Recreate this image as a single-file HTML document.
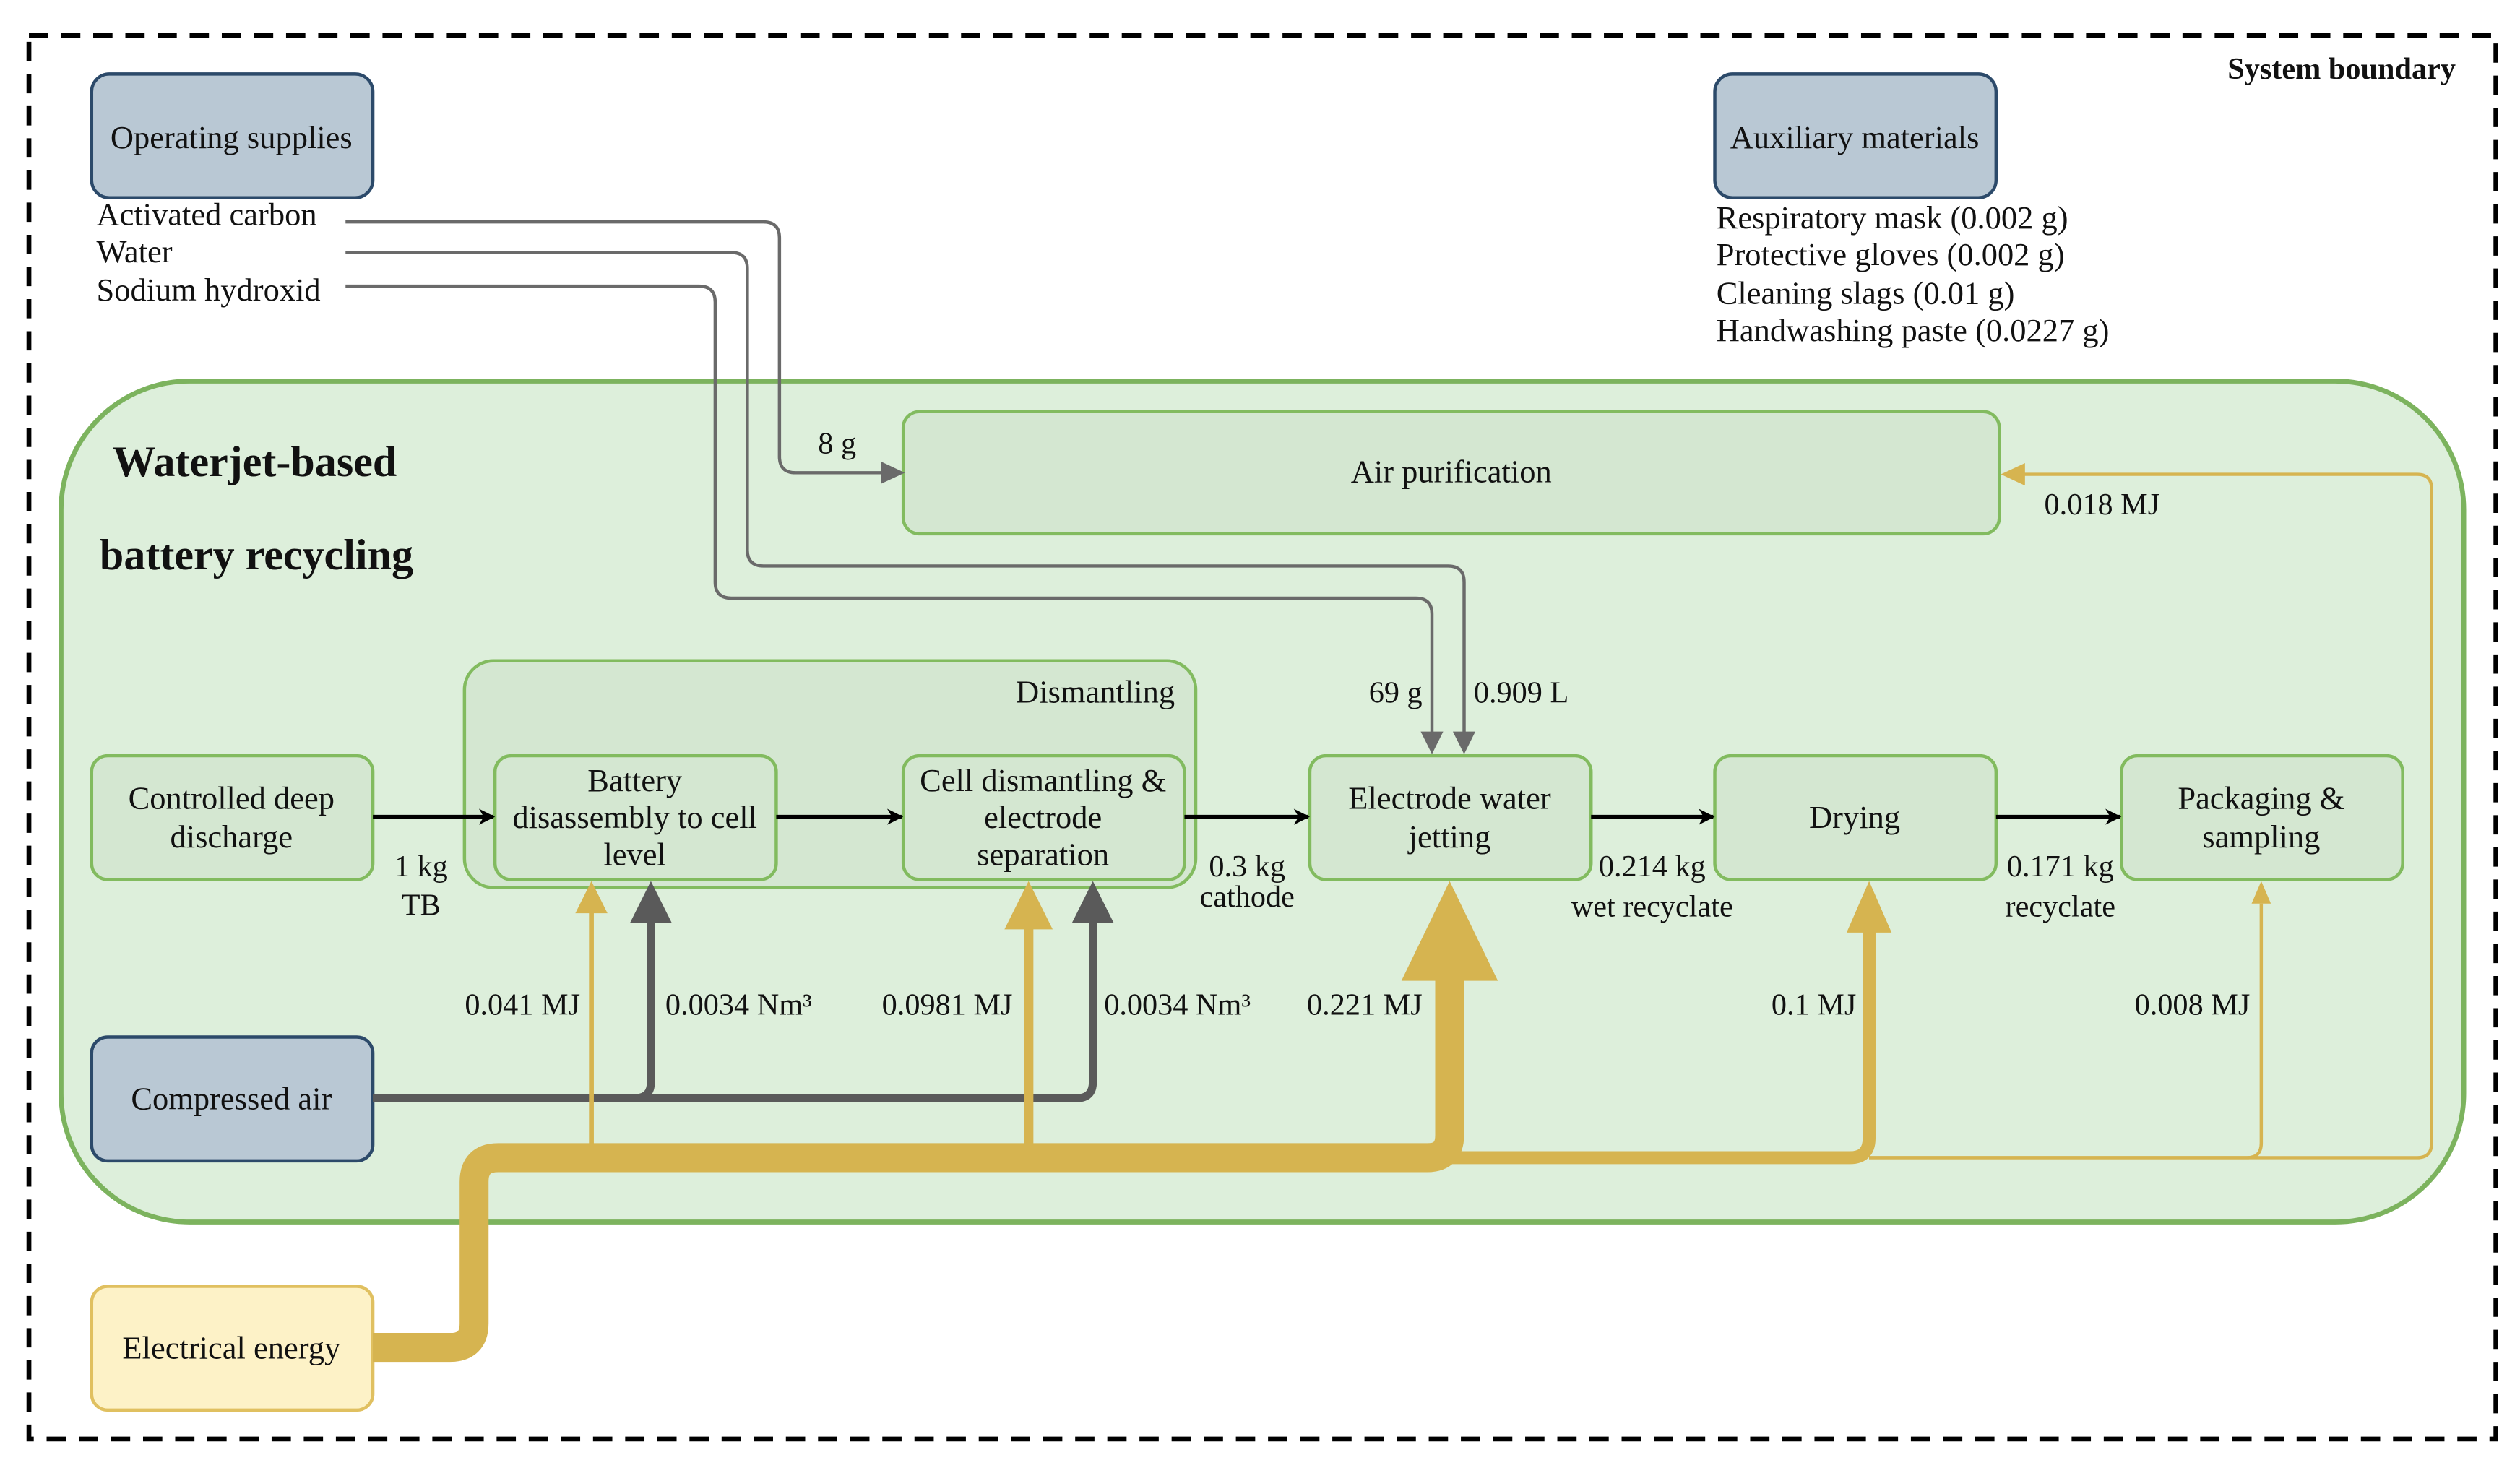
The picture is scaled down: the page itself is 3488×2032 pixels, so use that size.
<!DOCTYPE html>
<html><head><meta charset="utf-8"><style>
html,body{margin:0;padding:0;background:#fff;}
svg{display:block;font-family:"Liberation Serif","DejaVu Serif",serif;}
svg text{font-family:"Liberation Serif","DejaVu Serif",serif;fill:#111;}
</style></head><body>
<svg width="3488" height="2032" viewBox="0 0 1568 913" preserveAspectRatio="none" xmlns="http://www.w3.org/2000/svg" font-family="Liberation Serif, DejaVu Serif, serif">
<defs>
<marker id="ab" markerWidth="10" markerHeight="10" refX="9" refY="5" orient="auto" markerUnits="userSpaceOnUse"><path d="M0,0 L10,5 L0,10 L3,5 z" fill="#000"/></marker>
</defs>
<rect x="18" y="22" width="1535" height="873" fill="none" stroke="#000" stroke-width="3" stroke-dasharray="12 8"/>
<text x="1528" y="49" font-size="19" font-weight="bold" text-anchor="end">System boundary</text>

<rect x="57" y="46" width="175" height="77" rx="11" fill="#b9c8d4" stroke="#2c4a6a" stroke-width="2"/>
<text x="144" y="92" font-size="20" text-anchor="middle">Operating supplies</text>
<rect x="1067" y="46" width="175" height="77" rx="11" fill="#b9c8d4" stroke="#2c4a6a" stroke-width="2"/>
<text x="1154" y="92" font-size="20" text-anchor="middle">Auxiliary materials</text>
<g font-size="20">
<text x="60" y="140">Activated carbon</text>
<text x="60" y="163">Water</text>
<text x="60" y="187">Sodium hydroxid</text>
<text x="1068" y="142">Respiratory mask (0.002 g)</text>
<text x="1068" y="165">Protective gloves (0.002 g)</text>
<text x="1068" y="189">Cleaning slags (0.01 g)</text>
<text x="1068" y="212">Handwashing paste (0.0227 g)</text>
</g>

<rect x="38" y="237" width="1495" height="523" rx="80" fill="#ddefdb" stroke="#7cb35e" stroke-width="3"/>
<text x="70" y="296" font-size="27" font-weight="bold">Waterjet-based</text>
<text x="62" y="354" font-size="27" font-weight="bold">battery recycling</text>

<rect x="562" y="256" width="682" height="76" rx="10" fill="#d4e7d1" stroke="#82bb5f" stroke-width="2"/>
<text x="903" y="300" font-size="20" text-anchor="middle">Air purification</text>

<rect x="289" y="411" width="455" height="141" rx="18" fill="#d4e7d1" stroke="#82bb5f" stroke-width="2"/>
<text x="731" y="437" font-size="20" text-anchor="end">Dismantling</text>

<g fill="#d4e7d1" stroke="#82bb5f" stroke-width="2">
<rect x="57" y="470" width="175" height="77" rx="10"/>
<rect x="308" y="470" width="175" height="77" rx="10"/>
<rect x="562" y="470" width="175" height="77" rx="10"/>
<rect x="815" y="470" width="175" height="77" rx="10"/>
<rect x="1067" y="470" width="175" height="77" rx="10"/>
<rect x="1320" y="470" width="175" height="77" rx="10"/>
</g>
<g font-size="20" text-anchor="middle">
<text x="144" y="503">Controlled deep</text><text x="144" y="527">discharge</text>
<text x="395" y="492">Battery</text><text x="395" y="515">disassembly to cell</text><text x="395" y="538">level</text>
<text x="649" y="492">Cell dismantling &amp;</text><text x="649" y="515">electrode</text><text x="649" y="538">separation</text>
<text x="902" y="503">Electrode water</text><text x="902" y="527">jetting</text>
<text x="1154" y="515">Drying</text>
<text x="1407" y="503">Packaging &amp;</text><text x="1407" y="527">sampling</text>
</g>

<rect x="57" y="645" width="175" height="77" rx="10" fill="#b9c8d4" stroke="#2c4a6a" stroke-width="2"/>
<text x="144" y="690" font-size="20" text-anchor="middle">Compressed air</text>
<rect x="57" y="800" width="175" height="77" rx="10" fill="#fdf2c7" stroke="#e0c060" stroke-width="2"/>
<text x="144" y="845" font-size="20" text-anchor="middle">Electrical energy</text>

<g fill="none" stroke="#6a6a6a" stroke-width="2">
<path d="M215,138 H475 Q485,138 485,148 V284 Q485,294 495,294 H552"/>
<path d="M215,157 H455 Q465,157 465,167 V342 Q465,352 475,352 H901 Q911,352 911,362 V458"/>
<path d="M215,178 H435 Q445,178 445,188 V362 Q445,372 455,372 H881 Q891,372 891,382 V458"/>
</g>
<g fill="#6a6a6a">
<path d="M548,287 L563,294 L548,301 z"/>
<path d="M884,455 L891,469 L898,455 z"/>
<path d="M904,455 L911,469 L918,455 z"/>
</g>

<g fill="none" stroke="#5a5a5a" stroke-width="5">
<path d="M232,683 H395 Q405,683 405,673 V570"/>
<path d="M395,683 H670 Q680,683 680,673 V570"/>
</g>
<g fill="#5a5a5a">
<path d="M392,574 L405,548 L418,574 z"/>
<path d="M667,574 L680,548 L693,574 z"/>
</g>

<g fill="none" stroke="#d6b450" stroke-linejoin="round">
<path d="M1163,720 H1398 Q1407,720 1407,711 V562" stroke-width="2"/>
<path d="M1163,720 H1504 Q1513,720 1513,711 V304 Q1513,295 1504,295 H1258" stroke-width="2"/>
<path d="M900,720 H1151 Q1163,720 1163,708 V578" stroke-width="8"/>
<path d="M368,718 V566" stroke-width="3"/>
<path d="M640,718 V576" stroke-width="6"/>
<path d="M232,838 H280 Q295,838 295,823 V735 Q295,720 310,720 H888 Q902,720 902,706 V605" stroke-width="18"/>
</g>
<g fill="#d6b450">
<path d="M358,568 L368,548 L378,568 z"/>
<path d="M625,578 L640,548 L655,578 z"/>
<path d="M872,610 L902,548 L932,610 z"/>
<path d="M1149,580 L1163,548 L1177,580 z"/>
<path d="M1401,562 L1407,548 L1413,562 z"/>
<path d="M1260,288 L1245,295 L1260,302 z"/>
</g>

<g stroke="#000" stroke-width="2.5" marker-end="url(#ab)">
<line x1="232" y1="508" x2="307" y2="508"/>
<line x1="483" y1="508" x2="561" y2="508"/>
<line x1="737" y1="508" x2="814" y2="508"/>
<line x1="990" y1="508" x2="1066" y2="508"/>
<line x1="1242" y1="508" x2="1319" y2="508"/>
</g>

<g font-size="19">
<text x="509" y="282">8 g</text>
<text x="1272" y="320">0.018 MJ</text>
<text x="885" y="437" text-anchor="end">69 g</text>
<text x="917" y="437">0.909 L</text>
<text x="262" y="545" text-anchor="middle">1 kg</text>
<text x="262" y="569" text-anchor="middle">TB</text>
<text x="776" y="545" text-anchor="middle">0.3 kg</text>
<text x="776" y="564" text-anchor="middle">cathode</text>
<text x="1028" y="545" text-anchor="middle">0.214 kg</text>
<text x="1028" y="570" text-anchor="middle">wet recyclate</text>
<text x="1282" y="545" text-anchor="middle">0.171 kg</text>
<text x="1282" y="570" text-anchor="middle">recyclate</text>
<text x="361" y="631" text-anchor="end">0.041 MJ</text>
<text x="414" y="631">0.0034 Nm³</text>
<text x="630" y="631" text-anchor="end">0.0981 MJ</text>
<text x="687" y="631">0.0034 Nm³</text>
<text x="885" y="631" text-anchor="end">0.221 MJ</text>
<text x="1155" y="631" text-anchor="end">0.1 MJ</text>
<text x="1400" y="631" text-anchor="end">0.008 MJ</text>
</g>
</svg>
</body></html>
